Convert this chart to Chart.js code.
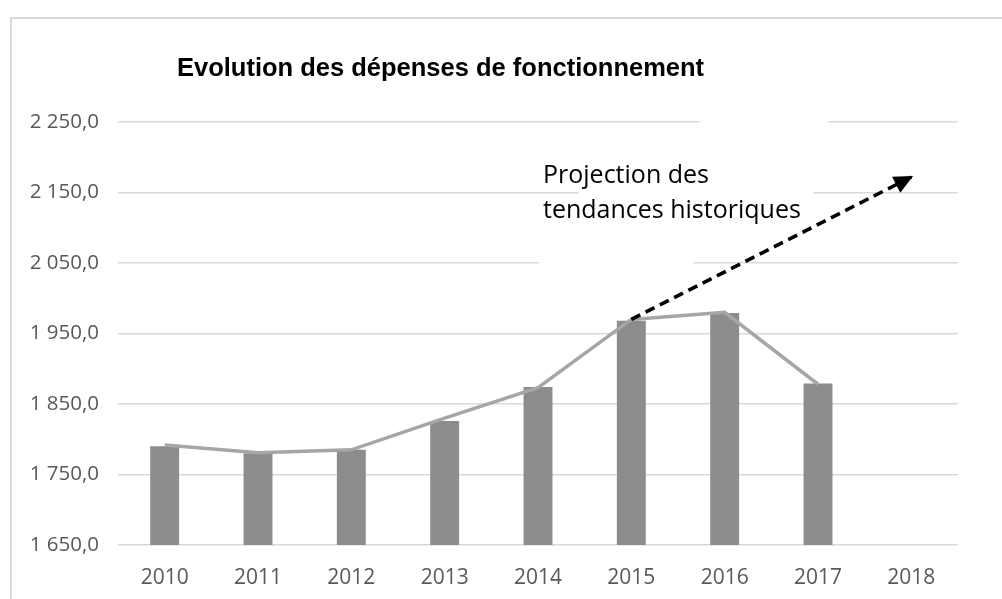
<!DOCTYPE html>
<html>
<head>
<meta charset="utf-8">
<script src="https://cdn.jsdelivr.net/npm/chart.js@4"></script>
<style>
  html, body { margin: 0; padding: 0; background: #fff; }
  body { width: 1002px; height: 599px; overflow: hidden; position: relative; }
  .frame {
    position: absolute; left: 10px; top: 17px; width: 1100px; height: 700px;
    border-top: 2px solid #d9d9d9; border-left: 2px solid #d9d9d9;
  }
  .wrap { position: absolute; left: 0; top: 0; width: 1002px; height: 599px; }
  .title {
    position: absolute; left: 177px; top: 53px; font-family: "Liberation Sans", Arial, sans-serif;
    font-weight: bold; font-size: 25.5px; color: #000; white-space: nowrap;
  }
  .note {
    position: absolute; left: 543px; top: 156px; font-family: "Open Sans", sans-serif;
    font-size: 25px; line-height: 35px; color: #000; white-space: nowrap;
  }
</style>
</head>
<body>
<div class="frame"></div>
<div class="wrap"><canvas id="depChart" width="1002" height="599"></canvas></div>
<div class="title">Evolution des dépenses de fonctionnement</div>
<div class="note">Projection des<br>tendances historiques</div>

<script>
// Data
const years = ['2010', '2011', '2012', '2013', '2014', '2015', '2016', '2017', '2018'];
const barValues = [1790, 1780, 1785, 1826, 1874, 1968, 1979, 1879, null];
const lineValues = [1792, 1781, 1785, 1830, 1873, 1970, 1980, 1878, null];
const projectionValues = [null, null, null, null, null, 1970, null, null, 2172];
const yTicks = [1650, 1750, 1850, 1950, 2050, 2150, 2250];

function formatFr(v) {
    const s = v.toFixed(1).replace('.', ',');
    const parts = s.split(',');
    return parts[0].replace(/\B(?=(\d{3})+(?!\d))/g, ' ') + ',' + parts[1];
}

// White patch behind the annotation text (covers grid lines like the original text box)
const notePatch = {
    id: 'notePatch',
    beforeDatasetsDraw(chart) {
        const ctx = chart.ctx;
        ctx.save();
        ctx.fillStyle = '#ffffff';
        ctx.beginPath();
        ctx.moveTo(718, 112);
        ctx.lineTo(830, 112);
        ctx.lineTo(812, 200);
        ctx.lineTo(680, 270);
        ctx.lineTo(535, 270);
        ctx.lineTo(583, 185);
        ctx.closePath();
        ctx.fill();
        ctx.restore();
    }
};

// Arrow head at end of projection line
const arrowHead = {
    id: 'arrowHead',
    afterDatasetsDraw(chart) {
        const meta = chart.getDatasetMeta(2);
        const pts = meta.data.filter((p, i) => projectionValues[i] !== null);
        if (pts.length < 2) return;
        const a = pts[pts.length - 2], b = pts[pts.length - 1];
        const ang = Math.atan2(b.y - a.y, b.x - a.x);
        const ctx = chart.ctx;
        const len = 17, wid = 9;
        ctx.save();
        ctx.translate(b.x, b.y);
        ctx.rotate(ang);
        ctx.fillStyle = '#000';
        ctx.beginPath();
        ctx.moveTo(2, 0);
        ctx.lineTo(-len, -wid);
        ctx.lineTo(-len, wid);
        ctx.closePath();
        ctx.fill();
        ctx.restore();
    }
};

const ctx = document.getElementById('depChart');
new Chart(ctx, {
    type: 'bar',
    data: {
        labels: years,
        datasets: [
            {
                type: 'line',
                data: lineValues,
                borderColor: '#a6a6a6',
                borderWidth: 3.5,
                pointRadius: 0,
                tension: 0,
                order: 1
            },
            {
                type: 'bar',
                data: barValues,
                backgroundColor: '#8c8c8c',
                categoryPercentage: 1,
                barPercentage: 0.31,
                order: 2
            },
            {
                type: 'line',
                data: projectionValues,
                borderColor: '#000000',
                borderWidth: 3.5,
                borderDash: [10, 6],
                pointRadius: 0,
                spanGaps: true,
                order: 0
            }
        ]
    },
    options: {
        responsive: false,
        animation: false,
        layout: { padding: { left: 20, right: 44, top: 122, bottom: 10 } },
        plugins: {
            legend: { display: false },
            tooltip: { enabled: false }
        },
        scales: {
            x: {
                grid: { display: false },
                border: { display: false },
                ticks: {
                    color: '#595959',
                    font: { family: 'Open Sans', size: 21 },
                    padding: 12
                },
                afterFit(scale) { scale.height = 44; }
            },
            y: {
                min: 1650,
                max: 2250,
                afterBuildTicks(scale) { scale.ticks = yTicks.map(v => ({ value: v })); },
                grid: { color: '#d9d9d9', lineWidth: 1.5, drawTicks: false },
                border: { display: false },
                ticks: {
                    color: '#595959',
                    font: { family: 'Open Sans', size: 20.5 },
                    padding: 19,
                    callback: v => formatFr(v)
                },
                afterFit(scale) { scale.width = 98; }
            }
        }
    },
    plugins: [notePatch, arrowHead]
});
</script>
</body>
</html>
